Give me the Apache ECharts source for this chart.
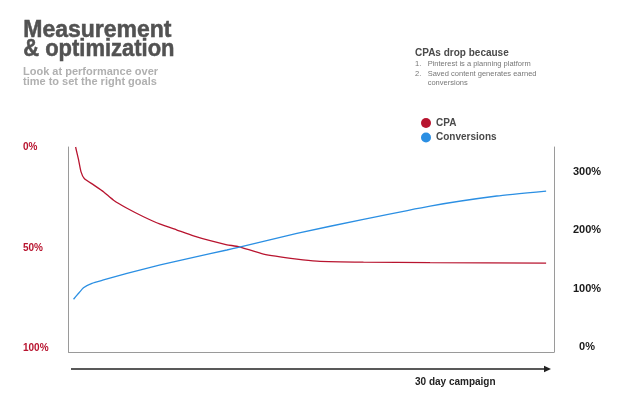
<!DOCTYPE html>
<html>
<head>
<meta charset="utf-8">
<style>
  html, body { margin: 0; padding: 0; background: #fff; }
  #chart { width: 620px; height: 405px; }
</style>
<script src="https://cdn.jsdelivr.net/npm/echarts@6/dist/echarts.min.js"></script>
</head>
<body>
<div id="chart"></div>
<script>
// CPA falls fast then flattens; conversions climb steadily over the 30-day campaign.
// Left axis = CPA (inverted, 0% on top), right axis = conversions.
const FONT = "'Liberation Sans', Arial, sans-serif";
const RED = "#b8142f", BLUE = "#2b8fe3";

const cpaDays = [0.15, 0.34, 0.49, 0.70, 1.29, 1.92, 2.56, 3.41, 4.46, 5.52, 6.58, 7.63, 8.69, 9.75, 10.48, 12.07, 14.19, 15.46, 18.41, 22.64, 30];
const cpaValues = [0, 6.4, 12.2, 15.6, 18.8, 22.2, 26.4, 30.4, 34.6, 38.3, 41.2, 44.1, 46.5, 48.5, 49.4, 53.1, 55.6, 56.6, 57.1, 57.4, 57.6];

const convDays = [0.02, 0.34, 0.65, 1.19, 1.92, 3.41, 5.52, 7.63, 9.75, 10.48, 14.19, 18.41, 22.64, 26.87, 30];
const convValues = [81.8, 92.1, 101.7, 109.2, 114.9, 126.4, 140.6, 153.8, 166.3, 170.9, 194.9, 218.9, 241.7, 258.9, 267.4];

const seriesNames = ["CPA", "Conversions"];
const zip = (xs, ys) => xs.map((x, i) => [x, ys[i]]);

const chart = echarts.init(document.getElementById("chart"), null, { renderer: "canvas" });

const frame = { show: true, onZero: false, lineStyle: { color: "#9a9a9a", width: 1 } };
const titleStyle = { font: `bold 23px ${FONT}`, fill: "#525252", stroke: "#525252", lineWidth: 0.5 };

chart.setOption({
  animation: false,
  textStyle: { fontFamily: FONT },
  grid: { left: 68.5, right: 66, top: 147, bottom: 53 },
  legend: {
    data: seriesNames, orient: "vertical", left: 416, top: 113,
    icon: "circle", itemWidth: 10, itemHeight: 10, itemGap: 4.5,
    textStyle: { fontFamily: FONT, fontSize: 10, fontWeight: "bold", color: "#4a4a4a" },
  },
  xAxis: {
    type: "value", min: -0.3, max: 30.5,
    axisLine: frame,
    axisTick: { show: false }, axisLabel: { show: false }, splitLine: { show: false },
  },
  yAxis: [
    {
      type: "value", inverse: true, min: 0, max: 101.7, interval: 50, position: "left",
      axisLine: frame,
      axisTick: { show: false }, splitLine: { show: false },
      axisLabel: {
        formatter: "{value}%", align: "left", margin: 45.5, showMaxLabel: false,
        fontFamily: FONT, fontSize: 10, fontWeight: "bold", color: RED,
      },
    },
    {
      type: "value", min: -8.6, max: 342.9, splitNumber: 4, minInterval: 100, maxInterval: 100, position: "right",
      axisLine: frame,
      axisTick: { show: false }, splitLine: { show: false },
      axisLabel: {
        formatter: "{value}%", align: "center", margin: 33, showMinLabel: false, showMaxLabel: false,
        fontFamily: FONT, fontSize: 11, fontWeight: "bold", color: "#1a1a1a",
      },
    },
  ],
  series: [
    {
      name: "CPA", type: "line", yAxisIndex: 0, data: zip(cpaDays, cpaValues),
      showSymbol: false, smooth: 0.15,
      lineStyle: { color: RED, width: 1.3 }, itemStyle: { color: RED },
    },
    {
      name: "Conversions", type: "line", yAxisIndex: 1, data: zip(convDays, convValues),
      showSymbol: false, smooth: 0.15,
      lineStyle: { color: BLUE, width: 1.3 }, itemStyle: { color: BLUE },
    },
  ],
  graphic: [
    { type: "text", left: 23, top: 19, style: Object.assign({ text: "Measurement" }, titleStyle) },
    { type: "text", left: 23, top: 37.5, scaleX: 0.955, style: Object.assign({ text: "& optimization" }, titleStyle) },
    { type: "text", left: 23, top: 66, style: { text: "Look at performance over\ntime to set the right goals", font: `bold 11px ${FONT}`, lineHeight: 10, fill: "#b0b0b0" } },
    { type: "text", left: 415, top: 48, style: { text: "CPAs drop because", font: `bold 10px ${FONT}`, lineHeight: 10, fill: "#4a4a4a" } },
    { type: "text", left: 415, top: 59.7, style: { text: "1.\n2.", font: `7.5px ${FONT}`, lineHeight: 9.2, fill: "#777" } },
    { type: "text", left: 427.7, top: 59.7, style: { text: "Pinterest is a planning platform\nSaved content generates earned\nconversions", font: `7.5px ${FONT}`, lineHeight: 9.2, fill: "#777" } },
    { type: "line", shape: { x1: 71, y1: 369, x2: 546, y2: 369 }, style: { stroke: "#222", lineWidth: 1.3 } },
    { type: "polygon", shape: { points: [[544, 365.8], [551, 369], [544, 372.2]] }, style: { fill: "#222" } },
    { type: "text", left: 415, top: 377, style: { text: "30 day campaign", font: `bold 10px ${FONT}`, fill: "#222" } },
  ],
});
</script>
</body>
</html>
